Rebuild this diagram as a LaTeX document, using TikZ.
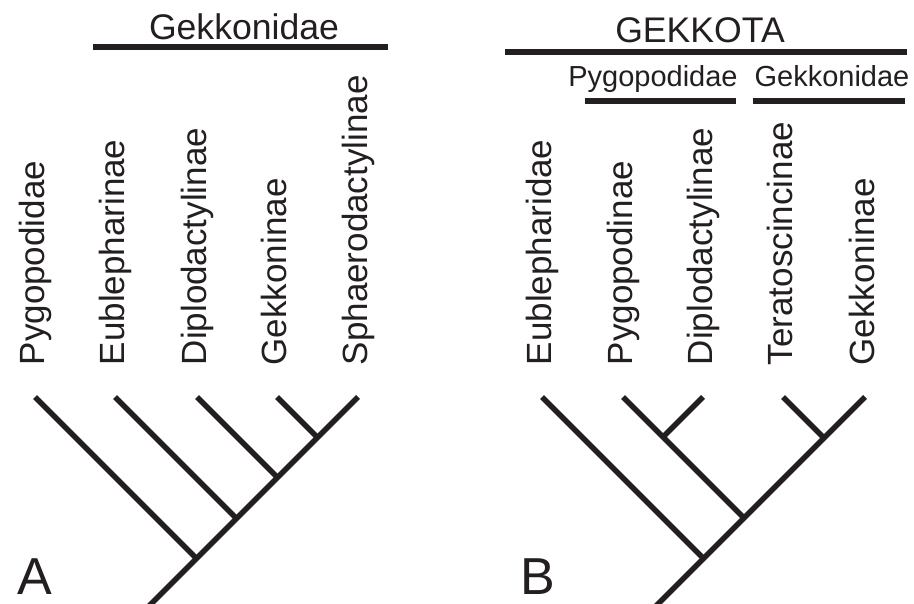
\documentclass[tikz,border=0pt]{standalone}
\usepackage{fontspec}
\setmainfont{Liberation Sans}

\definecolor{tinta}{RGB}{35,31,32}

\tikzset{
  taxon/.style={font=\fontsize{35pt}{36pt}\selectfont,text=tinta,rotate=90,anchor=base west,inner sep=0pt},
  grupo/.style={font=\fontsize{35.6pt}{36pt}\selectfont,text=tinta,anchor=base,inner sep=0pt},
  subgrupo/.style={font=\fontsize{29pt}{30pt}\selectfont,text=tinta,anchor=base,inner sep=0pt},
  letra/.style={font=\fontsize{52pt}{52pt}\selectfont,text=tinta,anchor=base west,inner sep=0pt},
  barra/.style={line width=6.5pt},
}

\begin{document}
\begin{tikzpicture}[x=1pt,y=-1pt,line width=5.5pt,draw=tinta]
  \useasboundingbox (0,0) rectangle (914,604);

  %arvore A
  \coordinate (a1) at (35,397);
  \coordinate (a2) at (115,397);
  \coordinate (a3) at (197,397);
  \coordinate (a4) at (277,397);
  \coordinate (a5) at (358,397);

  \coordinate (ja4) at (317.5,437.5);
  \coordinate (ja3) at (277.5,477.5);
  \coordinate (ja2) at (236.5,518.5);
  \coordinate (ja1) at (196.5,558.5);
  \coordinate (ra) at (149,606);

  \draw (a5) -- (ra);
  \draw (a4) -- (ja4);
  \draw (a3) -- (ja3);
  \draw (a2) -- (ja2);
  \draw (a1) -- (ja1);

  \node[taxon] (nPygoA) at ([shift={(9,-29)}]a1) {Pygopodidae};
  \node[taxon] (nEublA) at ([shift={(9,-29)}]a2) {Eublepharinae};
  \node[taxon] (nDiplA) at ([shift={(9,-29)}]a3) {Diplodactylinae};
  \node[taxon] (nGekkA) at ([shift={(9,-29)}]a4) {Gekkoninae};
  \node[taxon] (nSphaA) at ([shift={(9,-29)}]a5) {Sphaerodactylinae};

  %barra de cima A
  \coordinate (ba1) at (93,47);
  \coordinate (ba2) at (388,47);
  \draw[barra] (ba1) -- (ba2);
  \node[grupo] (gGekkA) at (244,40) {Gekkonidae};

  \node[letra] (lA) at (15,594) {A};

  %arvore B
  \coordinate (b1) at (542,397);
  \coordinate (b2) at (623,397);
  \coordinate (b3) at (703,397);
  \coordinate (b4) at (783,397);
  \coordinate (b5) at (865,397);

  \coordinate (jb1) at (663,437);
  \coordinate (jb2) at (824,438);
  \coordinate (jb3) at (744,518);
  \coordinate (jb4) at (703.5,558.5);
  \coordinate (rb) at (656,606);

  \draw (b5) -- (rb);
  \draw (b4) -- (jb2);
  \draw (b3) -- (jb1);
  \draw (b2) -- (jb3);
  \draw (b1) -- (jb4);

  \node[taxon] (nEublB) at ([shift={(9,-29)}]b1) {Eublepharidae};
  \node[taxon] (nPygoB) at ([shift={(9,-29)}]b2) {Pygopodinae};
  \node[taxon] (nDiplB) at ([shift={(9,-29)}]b3) {Diplodactylinae};
  \node[taxon] (nTeraB) at ([shift={(9,-29)}]b4) {Teratoscincinae};
  \node[taxon] (nGekkB) at ([shift={(9,-29)}]b5) {Gekkoninae};

  %barras de cima B
  \coordinate (bb1) at (505,52);
  \coordinate (bb2) at (907,52);
  \draw[barra] (bb1) -- (bb2);
  \node[grupo] (gGekkota) at (700,43) {GEKKOTA};

  \coordinate (bb3) at (585,101);
  \coordinate (bb4) at (736,101);
  \draw[barra] (bb3) -- (bb4);
  \node[subgrupo] (gPygoB) at (653,87) {Pygopodidae};

  \coordinate (bb5) at (753,101);
  \coordinate (bb6) at (905,101);
  \draw[barra] (bb5) -- (bb6);
  \node[subgrupo] (gGekkB) at (832,87) {Gekkonidae};

  \node[letra] (lB) at (518,594) {B};
\end{tikzpicture}
\end{document}
